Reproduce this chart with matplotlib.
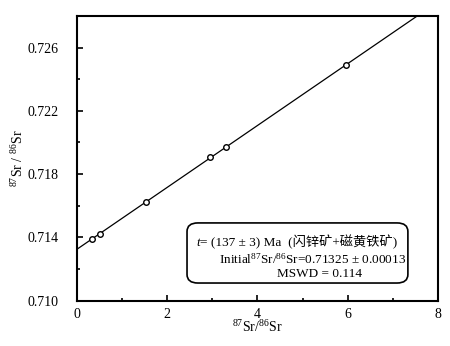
import numpy as np
import matplotlib
matplotlib.use('Agg')
import matplotlib.pyplot as plt
from matplotlib.patches import FancyBboxPatch

plt.rcParams['font.family'] = ['Liberation Serif', 'Noto Sans CJK SC']
plt.rcParams['mathtext.fontset'] = 'custom'
plt.rcParams['mathtext.rm'] = 'Liberation Serif'
plt.rcParams['mathtext.it'] = 'Liberation Serif:italic'

# Rb-Sr isochron data
rb_sr = [0.34, 0.52, 1.54, 2.96, 3.30, 5.96]
sr_sr = [0.71392, 0.71422, 0.71622, 0.71906, 0.71970, 0.72492]
intercept = 0.71325
slope = 0.001955
xticks = [0, 2, 4, 6, 8]
yticks = [0.710, 0.714, 0.718, 0.722, 0.726]

fig = plt.figure(figsize=(4.5, 3.46), dpi=100)
ax = fig.add_axes([0.171, 0.131, 0.802, 0.823])

xl = np.array([0, 8])
ax.plot(xl, intercept + slope * xl, color='black', lw=0.9)
ax.plot(rb_sr, sr_sr, 'o', mfc='white', mec='black', ms=4, mew=1)

ax.set_xlim(0, 8)
ax.set_ylim(0.710, 0.728)
ax.set_xticks(xticks)
ax.set_xticklabels([str(v) for v in xticks])
ax.set_yticks(yticks)
ax.set_yticklabels(['%.3f' % v for v in yticks])
ax.set_xticks([1, 3, 5, 7], minor=True)
ax.set_yticks([0.712, 0.716, 0.720, 0.724], minor=True)
ax.tick_params(which='both', direction='in', labelsize=10, width=1.2)
ax.tick_params(which='major', length=4)
ax.tick_params(which='minor', length=2.5)
ax.tick_params(axis='y', pad=13)
ax.tick_params(axis='x', pad=5)
for s in ax.spines.values():
    s.set_linewidth(1.5)

ax.set_xlabel(r'$^{87}$Sr/$^{86}$Sr', fontsize=10, labelpad=-1)
ax.set_ylabel(r'$^{87}$Sr / $^{86}$Sr', fontsize=10, labelpad=1)

box = FancyBboxPatch((0.305, 0.062), 0.612, 0.211, boxstyle='round,pad=0,rounding_size=0.03',
                     transform=ax.transAxes, fc='white', ec='black', lw=1.2)
ax.add_patch(box)
t_txt = ax.text(0.332, 0.203, 't', transform=ax.transAxes, fontsize=9.5,
                style='italic', ha='left', va='center')
ax.annotate('= (137 ± 3) Ma  (闪锌矿+磁黄铁矿)', xy=(1, 0), xycoords=t_txt,
            fontsize=9.5, ha='left', va='bottom')
ax.text(0.393, 0.146, r'Initial$^{87}$Sr/$^{86}$Sr=0.71325 ± 0.00013', transform=ax.transAxes,
        fontsize=9.5, ha='left', va='center')
ax.text(0.673, 0.094, 'MSWD = 0.114', transform=ax.transAxes,
        fontsize=9.5, ha='center', va='center')

fig.savefig('out.png', dpi=100)
